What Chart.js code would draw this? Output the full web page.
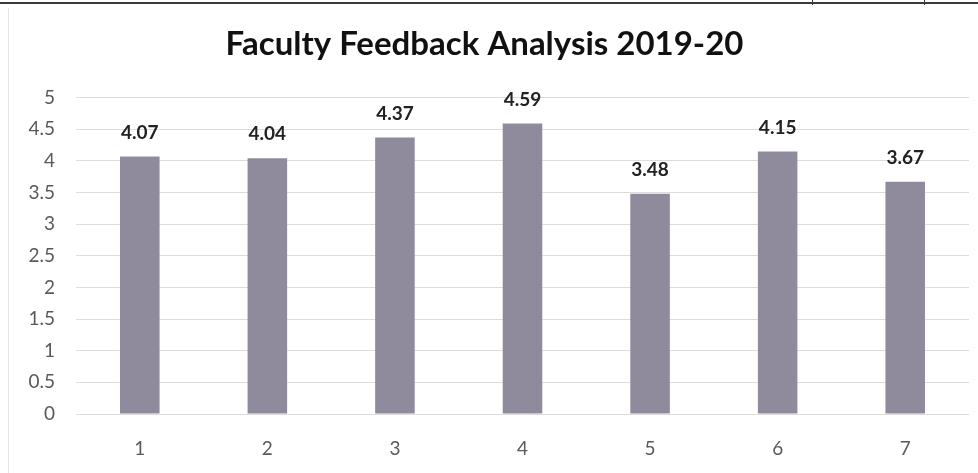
<!DOCTYPE html>
<html lang="en">
<head>
    <meta charset="UTF-8">
    <title>Faculty Feedback Analysis 2019-20</title>
    <script src="https://cdn.jsdelivr.net/npm/chart.js"></script>
    <style>
        html, body {
            margin: 0;
            padding: 0;
            background: #ffffff;
        }
        .page {
            position: relative;
            width: 978px;
            height: 473px;
            overflow: hidden;
        }
        /* scanned page ruling at the top */
        .rule-top {
            position: absolute;
            left: 0;
            top: 2px;
            width: 978px;
            height: 2px;
            background: #3a3a3a;
        }
        .rule-tick {
            position: absolute;
            top: 0;
            width: 1px;
            height: 5px;
            background: #3a3a3a;
        }
        .frame-left {
            position: absolute;
            left: 8px;
            top: 8px;
            width: 1px;
            height: 465px;
            background: #e4e4e4;
        }
        .chart-box {
            position: absolute;
            left: 0;
            top: 0;
            width: 978px;
            height: 473px;
        }
    </style>
</head>
<body>
<div class="page">
    <div class="rule-top"></div>
    <div class="rule-tick" style="left: 812px;"></div>
    <div class="rule-tick" style="left: 924px;"></div>
    <div class="frame-left"></div>
    <div class="chart-box">
        <canvas id="feedbackChart" width="978" height="473"></canvas>
    </div>
</div>

<script>
    // chart data
    const categories = ["1", "2", "3", "4", "5", "6", "7"];
    const scores = [4.07, 4.04, 4.37, 4.59, 3.48, 4.15, 3.67];
    const yTicks = [0, 0.5, 1, 1.5, 2, 2.5, 3, 3.5, 4, 4.5, 5];

    const fontFamily = "Lato, 'Open Sans', sans-serif";

    // draws the value above each bar
    const valueLabels = {
        id: "valueLabels",
        afterDatasetsDraw(chart) {
            const ctx = chart.ctx;
            const meta = chart.getDatasetMeta(0);
            ctx.save();
            ctx.font = "bold 19px " + fontFamily;
            ctx.fillStyle = "#222222";
            ctx.textAlign = "center";
            ctx.textBaseline = "middle";
            meta.data.forEach((bar, i) => {
                ctx.fillText(scores[i].toFixed(2), bar.x, bar.y - 24);
            });
            ctx.restore();
        }
    };

    new Chart(document.getElementById("feedbackChart"), {
        type: "bar",
        data: {
            labels: categories,
            datasets: [{
                data: scores,
                backgroundColor: "#8f8b9c",
                borderWidth: 0,
                categoryPercentage: 1,
                barPercentage: 0.31
            }]
        },
        options: {
            responsive: false,
            animation: false,
            layout: {
                padding: { left: 0, right: 9, top: 0, bottom: 0 }
            },
            plugins: {
                legend: { display: false },
                tooltip: { enabled: false },
                title: {
                    display: true,
                    text: "Faculty Feedback Analysis 2019-20",
                    color: "#111111",
                    font: { family: fontFamily, size: 33, weight: "bold" },
                    padding: { top: 25, bottom: 33 }
                }
            },
            scales: {
                x: {
                    grid: { display: false, drawTicks: false },
                    border: { display: false },
                    ticks: {
                        color: "#595959",
                        font: { family: fontFamily, size: 19 },
                        padding: 23
                    },
                    afterFit(scale) {
                        scale.height = 59;
                    }
                },
                y: {
                    min: 0,
                    max: 5,
                    afterBuildTicks(scale) {
                        scale.ticks = yTicks.map(v => ({ value: v }));
                    },
                    grid: {
                        color: "#dcdcdc",
                        drawTicks: false
                    },
                    border: { display: false },
                    ticks: {
                        color: "#595959",
                        font: { family: fontFamily, size: 19 },
                        padding: 21,
                        callback: v => String(v)
                    },
                    afterFit(scale) {
                        scale.width = 76;
                    }
                }
            }
        },
        plugins: [valueLabels]
    });
</script>
</body>
</html>
